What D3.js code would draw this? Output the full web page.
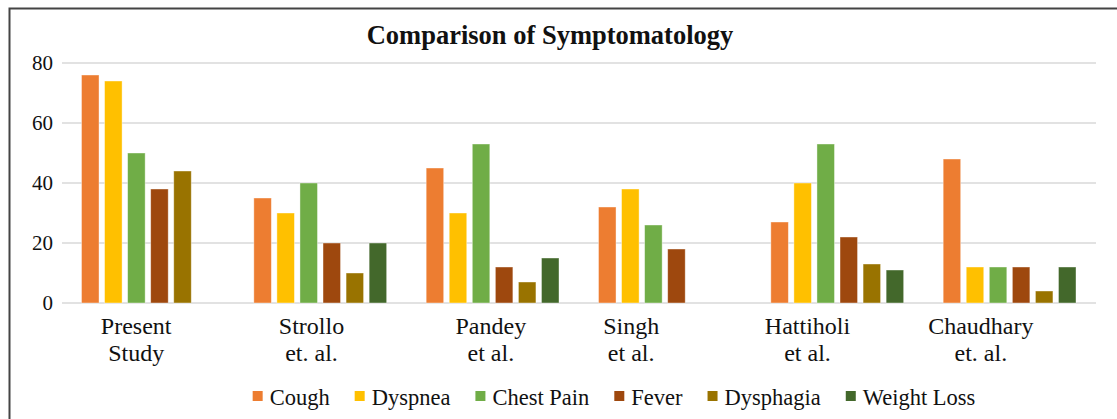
<!DOCTYPE html>
<html>
<head>
<meta charset="utf-8">
<script src="https://cdn.jsdelivr.net/npm/d3@7"></script>
<style>
  body { margin: 0; background: #fff; }
  text { font-family: "Liberation Serif", "Times New Roman", Times, serif; }
</style>
</head>
<body>
<svg id="chart"></svg>
<script>
const studies = [["Present", "Study"], ["Strollo", "et. al."], ["Pandey", "et al."], ["Singh", "et al."], ["Hattiholi", "et al."], ["Chaudhary", "et. al."]];
const symptoms = ["Cough", "Dyspnea", "Chest Pain", "Fever", "Dysphagia", "Weight Loss"];
const cough = [76, 35, 45, 32, 27, 48];
const dyspnea = [74, 30, 30, 38, 40, 12];
const chestPain = [50, 40, 53, 26, 53, 12];
const fever = [38, 20, 12, 18, 22, 12];
const dysphagia = [44, 10, 7, 0, 13, 4];
const weightLoss = [0, 20, 15, 0, 11, 12];
const yTicks = [0, 20, 40, 60, 80];

const colors = ["#ED7D31", "#FFC000", "#70AD47", "#9E480E", "#997300", "#43682B"];
// label nudges, the source labels were not centred under their groups
const labelShift = [-12, -9, -2, -34, -30, -29];
const serif = '"Liberation Serif", "Times New Roman", Times, serif';

const width = 1117, height = 419;
const margin = {top: 63, right: 21, bottom: 116, left: 62};

const series = [cough, dyspnea, chestPain, fever, dysphagia, weightLoss];
const rows = studies.map((s, i) => ({key: i, values: series.map((v, j) => ({s: j, v: v[i]}))}));

const svg = d3.select("#chart").attr("width", width).attr("height", height)
	.attr("font-family", serif);

// frame
svg.append("path")
	.attr("d", `M9.5,${height} V8.5 H${width}`)
	.attr("fill", "none").attr("stroke", "#444").attr("stroke-width", 2);

const x0 = d3.scaleBand().domain(d3.range(studies.length)).range([margin.left, width - margin.right]).paddingInner(0).paddingOuter(0);
const x1 = d3.scaleBand().domain(d3.range(symptoms.length)).range([19.5, x0.bandwidth() - 20]).paddingInner(0.24).paddingOuter(0);
const y = d3.scaleLinear().domain([0, 80]).range([height - margin.bottom, margin.top]);

// grid
svg.append("g")
	.selectAll("line")
	.data(yTicks)
	.enter()
	.append("line")
	.attr("x1", margin.left).attr("x2", width - margin.right)
	.attr("y1", d => y(d)).attr("y2", d => y(d))
	.attr("stroke", "#d9d9d9").attr("stroke-width", 1.5);

svg.append("g")
	.selectAll("text")
	.data(yTicks)
	.enter()
	.append("text")
	.attr("x", 53).attr("y", d => y(d) + 7)
	.attr("text-anchor", "end")
	.style("font-family", serif)
	.style("font-size", "21px").attr("fill", "#111")
	.text(d => d);

// bars
svg.append("g")
	.selectAll("g")
	.data(rows)
	.enter()
	.append("g")
	.attr("transform", d => `translate(${x0(d.key)},0)`)
	.selectAll("rect")
	.data(d => d.values.filter(e => e.v > 0))
	.enter()
	.append("rect")
	.attr("x", d => x1(d.s))
	.attr("y", d => y(d.v))
	.attr("width", x1.bandwidth())
	.attr("height", d => y(0) - y(d.v))
	.attr("fill", d => colors[d.s])
	.attr("stroke", "#fff").attr("stroke-opacity", 0.5).attr("stroke-width", 0.8);

// category labels
const cat = svg.append("g")
	.selectAll("text")
	.data(studies)
	.enter()
	.append("text")
	.attr("text-anchor", "middle")
	.attr("transform", (d, i) => `translate(${x0(i) + x0.bandwidth() / 2 + labelShift[i]},0)`)
	.style("font-family", serif)
	.style("font-size", "24px").attr("fill", "#111");
cat.selectAll("tspan")
	.data(d => d)
	.enter()
	.append("tspan")
	.attr("x", 0)
	.attr("y", (d, i) => 334 + i * 27)
	.text(d => d);

// title
svg.append("text")
	.attr("x", 550).attr("y", 44)
	.attr("text-anchor", "middle")
	.style("font-family", serif)
	.style("font-size", "26.5px").style("font-weight", "bold").attr("fill", "#111")
	.text("Comparison of Symptomatology");

// legend
const legend = svg.append("g");
const items = legend.selectAll("g")
	.data(symptoms)
	.enter()
	.append("g");
items.append("rect")
	.attr("width", 10).attr("height", 10).attr("y", -14)
	.attr("fill", (d, i) => colors[i]);
items.append("text")
	.attr("x", 17).attr("y", 0)
	.style("font-family", serif)
	.style("font-size", "22.5px").attr("fill", "#111")
	.text(d => d);
let lx = 0;
items.each(function() {
	const g = d3.select(this);
	g.attr("transform", `translate(${lx},405)`);
	lx += 17 + g.select("text").node().getComputedTextLength() + 25;
});
lx -= 25;
legend.attr("transform", `translate(${614 - lx / 2},0)`);
</script>
</body>
</html>
